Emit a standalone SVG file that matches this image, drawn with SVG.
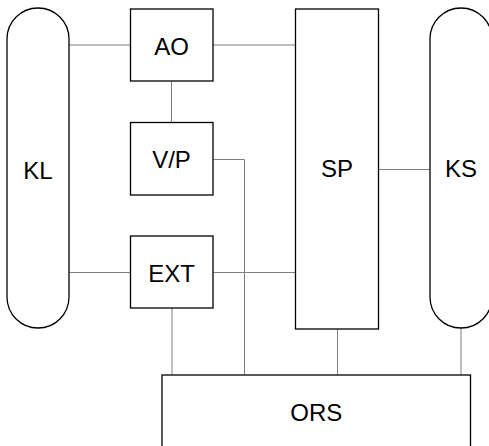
<svg xmlns="http://www.w3.org/2000/svg" width="489" height="446" viewBox="0 0 489 446">
<style>
.n{fill:#fff;stroke:#000;stroke-width:1.3}
.t{font-family:"Liberation Sans",Arial,sans-serif;font-size:24px;fill:#000;text-anchor:middle}
.c{fill:none;stroke:#808080;stroke-width:1}
</style>
<rect width="489" height="446" fill="#fff"/>
<g id="connectors">
<line class="c" x1="69" y1="45" x2="130" y2="45"/>
<line class="c" x1="213" y1="45" x2="295.5" y2="45"/>
<line class="c" x1="171.5" y1="81" x2="171.5" y2="122"/>
<polyline class="c" points="213,159.5 244.5,159.5 244.5,375"/>
<line class="c" x1="378.5" y1="169.5" x2="430" y2="169.5"/>
<line class="c" x1="69" y1="272.5" x2="130" y2="272.5"/>
<line class="c" x1="213" y1="272.5" x2="295.5" y2="272.5"/>
<line class="c" x1="172" y1="308" x2="172" y2="375"/>
<line class="c" x1="337.5" y1="329" x2="337.5" y2="375"/>
<line class="c" x1="461" y1="328" x2="461" y2="375"/>
</g>
<g id="KL">
<path class="n" d="M7,39 A31,31 0 0 1 69,39 L69,297 A31,31 0 0 1 7,297 Z"/>
<text class="t" x="38" y="178.5">KL</text>
</g>
<g id="AO">
<rect class="n" x="130.5" y="9" width="82.5" height="72"/>
<text class="t" x="171.5" y="54.5">AO</text>
</g>
<g id="VP">
<rect class="n" x="130.5" y="122.5" width="82.5" height="72.5"/>
<text class="t" x="171.5" y="168">V/P</text>
</g>
<g id="EXT">
<rect class="n" x="130.5" y="236" width="82.5" height="72"/>
<text class="t" x="171.5" y="282">EXT</text>
</g>
<g id="SP">
<rect class="n" x="295.5" y="9" width="83" height="320"/>
<text class="t" x="337" y="177">SP</text>
</g>
<g id="KS">
<path class="n" d="M430,39 A31,31 0 0 1 492,39 L492,297 A31,31 0 0 1 430,297 Z"/>
<text class="t" x="461" y="177">KS</text>
</g>
<g id="ORS">
<rect class="n" x="162" y="375" width="308.5" height="80"/>
<text class="t" x="316.3" y="420.5">ORS</text>
</g>
</svg>
